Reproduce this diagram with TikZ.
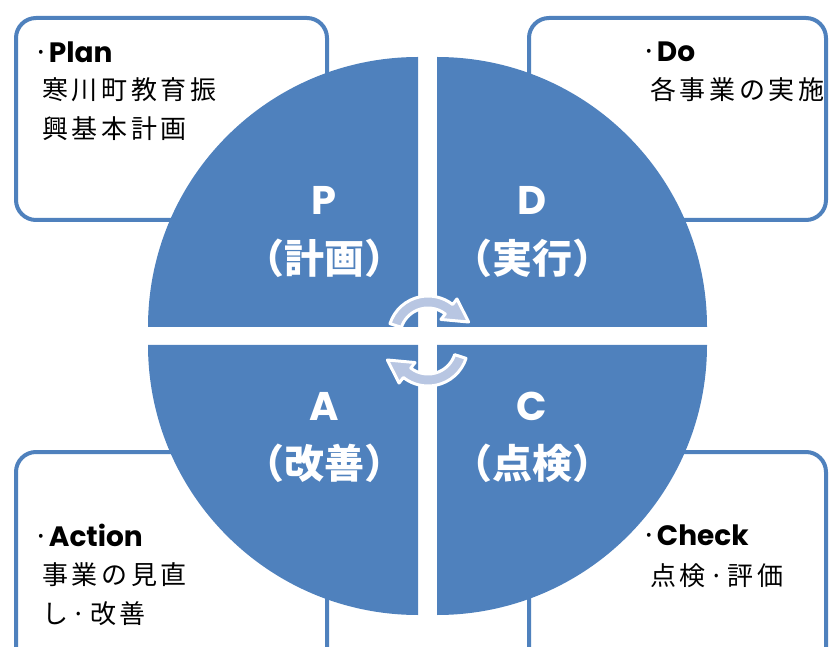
\documentclass[tikz,border=0pt]{standalone}
\usepackage{fontspec}
\newfontfamily\jp{Noto Sans CJK JP}
\newfontfamily\jpsp{Noto Sans CJK JP}[LetterSpace=14]
\newfontfamily\lat{Poppins}
\definecolor{qblue}{HTML}{4F81BD}
\definecolor{arrowfill}{HTML}{B8C6E2}
\begin{document}
\begin{tikzpicture}[x=1pt,y=1pt,
  quad/.style={fill=qblue},
  cbox/.style={draw=qblue,line width=4pt,fill=white,rounded corners=20pt},
  big/.style={text=white,font=\jp\bfseries\fontsize{40}{40}\selectfont,inner sep=0},
  letter/.style={text=white,font=\lat\bfseries\fontsize{40}{40}\selectfont,inner sep=0},
  head/.style={anchor=west,inner sep=0,font=\fontsize{28}{28}\selectfont},
  body/.style={anchor=west,inner sep=0,font=\jpsp\fontsize{26}{26}\selectfont},
  cyc/.style={fill=arrowfill,draw=white,line width=3pt,line join=round}]
\useasboundingbox (0,0) rectangle (830,646);
\clip (0,0) rectangle (830,646);
% corner boxes
\draw[cbox] (16,628) rectangle (327,426);
\draw[cbox] (529,628) rectangle (826,426);
\draw[cbox] (16,194) rectangle (327,-40);
\draw[cbox] (529,194) rectangle (826,-40);
% quadrants
\fill[quad] (418,319) -- (148,319) arc[start angle=180,end angle=90,radius=270] -- cycle;
\fill[quad] (437,319) -- (437,589) arc[start angle=90,end angle=0,radius=270] -- cycle;
\fill[quad] (418,301) -- (148,301) arc[start angle=180,end angle=270,radius=270] -- cycle;
\fill[quad] (437,301) -- (437,31) arc[start angle=270,end angle=360,radius=270] -- cycle;
% cycle arrows
\begin{scope}[shift={(428,310)}]
\draw[cyc] (162:40) arc[start angle=162,end angle=52,radius=40] -- (52:47) -- (19:43) -- (52:21) -- (52:28) arc[start angle=52,end angle=162,radius=28] -- cycle;
\end{scope}
\begin{scope}[shift={(428,300)},rotate=180]
\draw[cyc] (162:40) arc[start angle=162,end angle=52,radius=40] -- (52:47) -- (19:43) -- (52:21) -- (52:28) arc[start angle=52,end angle=162,radius=28] -- cycle;
\end{scope}
% quadrant labels
\node[letter] (pl) at (324,446) {P};
\node[big] (pj) at (324,388) {（計画）};
\node[letter] (dl) at (532,446) {D};
\node[big] (dj) at (532,388) {（実行）};
\node[letter] (al) at (324,240) {A};
\node[big] (aj) at (324,183) {（改善）};
\node[letter] (cl) at (532,240) {C};
\node[big] (cj) at (532,183) {（点検）};
% box texts
\node[head] (ph) at (33,594) {{\jp ·}{\lat\bfseries Plan}};
\node[body] (p1) at (42,556) {寒川町教育振};
\node[body] (p2) at (42,517) {興基本計画};
\node[head] (dh) at (641,594) {{\jp ·}{\lat\bfseries Do}};
\node[body] (d1) at (650,556) {各事業の実施};
\node[head] (ah) at (33,111) {{\jp ·}{\lat\bfseries Action}};
\node[body] (a1) at (42,71) {事業の見直};
\node[body] (a2) at (42,32) {し·改善};
\node[head] (ch) at (641,111) {{\jp ·}{\lat\bfseries Check}};
\node[body] (c1) at (650,70) {点検·評価};
\end{tikzpicture}
\end{document}
